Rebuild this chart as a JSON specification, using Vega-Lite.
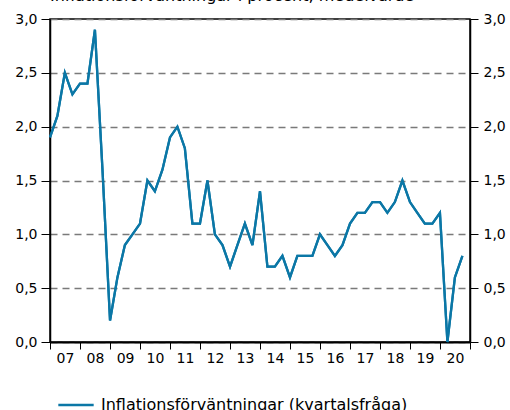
{
  "$schema": "https://vega.github.io/schema/vega-lite/v6.json",
  "width": 420,
  "height": 323,
  "autosize": "none",
  "padding": {"left": 50, "top": 19, "right": 40, "bottom": 68},
  "background": "white",
  "config": {
    "font": "DejaVu Sans",
    "view": {"stroke": "black", "strokeWidth": 1.5},
    "axis": {"labelFont": "DejaVu Sans", "labelFontSize": 14, "labelColor": "black", "domainColor": "black", "tickColor": "black"}
  },
  "title": {
    "text": "Inflationsförväntningar i procent, medelvärde",
    "anchor": "start",
    "frame": "group",
    "baseline": "alphabetic",
    "offset": -5,
    "fontSize": 16,
    "fontWeight": "normal",
    "font": "DejaVu Sans",
    "color": "black"
  },
  "data": {
    "values": [
      {"period": "2007-01-01", "value": 1.9, "serie": "Inflationsförväntningar (kvartalsfråga)"},
      {"period": "2007-04-01", "value": 2.1, "serie": "Inflationsförväntningar (kvartalsfråga)"},
      {"period": "2007-07-01", "value": 2.5, "serie": "Inflationsförväntningar (kvartalsfråga)"},
      {"period": "2007-10-01", "value": 2.3, "serie": "Inflationsförväntningar (kvartalsfråga)"},
      {"period": "2008-01-01", "value": 2.4, "serie": "Inflationsförväntningar (kvartalsfråga)"},
      {"period": "2008-04-01", "value": 2.4, "serie": "Inflationsförväntningar (kvartalsfråga)"},
      {"period": "2008-07-01", "value": 2.9, "serie": "Inflationsförväntningar (kvartalsfråga)"},
      {"period": "2008-10-01", "value": 1.6, "serie": "Inflationsförväntningar (kvartalsfråga)"},
      {"period": "2009-01-01", "value": 0.2, "serie": "Inflationsförväntningar (kvartalsfråga)"},
      {"period": "2009-04-01", "value": 0.6, "serie": "Inflationsförväntningar (kvartalsfråga)"},
      {"period": "2009-07-01", "value": 0.9, "serie": "Inflationsförväntningar (kvartalsfråga)"},
      {"period": "2009-10-01", "value": 1.0, "serie": "Inflationsförväntningar (kvartalsfråga)"},
      {"period": "2010-01-01", "value": 1.1, "serie": "Inflationsförväntningar (kvartalsfråga)"},
      {"period": "2010-04-01", "value": 1.5, "serie": "Inflationsförväntningar (kvartalsfråga)"},
      {"period": "2010-07-01", "value": 1.4, "serie": "Inflationsförväntningar (kvartalsfråga)"},
      {"period": "2010-10-01", "value": 1.6, "serie": "Inflationsförväntningar (kvartalsfråga)"},
      {"period": "2011-01-01", "value": 1.9, "serie": "Inflationsförväntningar (kvartalsfråga)"},
      {"period": "2011-04-01", "value": 2.0, "serie": "Inflationsförväntningar (kvartalsfråga)"},
      {"period": "2011-07-01", "value": 1.8, "serie": "Inflationsförväntningar (kvartalsfråga)"},
      {"period": "2011-10-01", "value": 1.1, "serie": "Inflationsförväntningar (kvartalsfråga)"},
      {"period": "2012-01-01", "value": 1.1, "serie": "Inflationsförväntningar (kvartalsfråga)"},
      {"period": "2012-04-01", "value": 1.5, "serie": "Inflationsförväntningar (kvartalsfråga)"},
      {"period": "2012-07-01", "value": 1.0, "serie": "Inflationsförväntningar (kvartalsfråga)"},
      {"period": "2012-10-01", "value": 0.9, "serie": "Inflationsförväntningar (kvartalsfråga)"},
      {"period": "2013-01-01", "value": 0.7, "serie": "Inflationsförväntningar (kvartalsfråga)"},
      {"period": "2013-04-01", "value": 0.9, "serie": "Inflationsförväntningar (kvartalsfråga)"},
      {"period": "2013-07-01", "value": 1.1, "serie": "Inflationsförväntningar (kvartalsfråga)"},
      {"period": "2013-10-01", "value": 0.9, "serie": "Inflationsförväntningar (kvartalsfråga)"},
      {"period": "2014-01-01", "value": 1.4, "serie": "Inflationsförväntningar (kvartalsfråga)"},
      {"period": "2014-04-01", "value": 0.7, "serie": "Inflationsförväntningar (kvartalsfråga)"},
      {"period": "2014-07-01", "value": 0.7, "serie": "Inflationsförväntningar (kvartalsfråga)"},
      {"period": "2014-10-01", "value": 0.8, "serie": "Inflationsförväntningar (kvartalsfråga)"},
      {"period": "2015-01-01", "value": 0.6, "serie": "Inflationsförväntningar (kvartalsfråga)"},
      {"period": "2015-04-01", "value": 0.8, "serie": "Inflationsförväntningar (kvartalsfråga)"},
      {"period": "2015-07-01", "value": 0.8, "serie": "Inflationsförväntningar (kvartalsfråga)"},
      {"period": "2015-10-01", "value": 0.8, "serie": "Inflationsförväntningar (kvartalsfråga)"},
      {"period": "2016-01-01", "value": 1.0, "serie": "Inflationsförväntningar (kvartalsfråga)"},
      {"period": "2016-04-01", "value": 0.9, "serie": "Inflationsförväntningar (kvartalsfråga)"},
      {"period": "2016-07-01", "value": 0.8, "serie": "Inflationsförväntningar (kvartalsfråga)"},
      {"period": "2016-10-01", "value": 0.9, "serie": "Inflationsförväntningar (kvartalsfråga)"},
      {"period": "2017-01-01", "value": 1.1, "serie": "Inflationsförväntningar (kvartalsfråga)"},
      {"period": "2017-04-01", "value": 1.2, "serie": "Inflationsförväntningar (kvartalsfråga)"},
      {"period": "2017-07-01", "value": 1.2, "serie": "Inflationsförväntningar (kvartalsfråga)"},
      {"period": "2017-10-01", "value": 1.3, "serie": "Inflationsförväntningar (kvartalsfråga)"},
      {"period": "2018-01-01", "value": 1.3, "serie": "Inflationsförväntningar (kvartalsfråga)"},
      {"period": "2018-04-01", "value": 1.2, "serie": "Inflationsförväntningar (kvartalsfråga)"},
      {"period": "2018-07-01", "value": 1.3, "serie": "Inflationsförväntningar (kvartalsfråga)"},
      {"period": "2018-10-01", "value": 1.5, "serie": "Inflationsförväntningar (kvartalsfråga)"},
      {"period": "2019-01-01", "value": 1.3, "serie": "Inflationsförväntningar (kvartalsfråga)"},
      {"period": "2019-04-01", "value": 1.2, "serie": "Inflationsförväntningar (kvartalsfråga)"},
      {"period": "2019-07-01", "value": 1.1, "serie": "Inflationsförväntningar (kvartalsfråga)"},
      {"period": "2019-10-01", "value": 1.1, "serie": "Inflationsförväntningar (kvartalsfråga)"},
      {"period": "2020-01-01", "value": 1.2, "serie": "Inflationsförväntningar (kvartalsfråga)"},
      {"period": "2020-04-01", "value": 0.0, "serie": "Inflationsförväntningar (kvartalsfråga)"},
      {"period": "2020-07-01", "value": 0.6, "serie": "Inflationsförväntningar (kvartalsfråga)"},
      {"period": "2020-10-01", "value": 0.8, "serie": "Inflationsförväntningar (kvartalsfråga)"}
    ]
  },
  "encoding": {
    "x": {
      "field": "period",
      "type": "temporal",
      "title": null,
      "scale": {"type": "utc", "domain": [{"year": 2007, "month": 1, "date": 1, "utc": true}, {"year": 2021, "month": 1, "date": 1, "utc": true}]},
      "axis": {
        "grid": false,
        "domainWidth": 2,
        "tickSize": 7,
        "tickWidth": 1,
        "labelOffset": 15,
        "labelOverlap": false,
        "labelFlush": false,
        "labelBound": false,
        "labelPadding": 2,
        "values": [
          {"year": 2007, "month": 1, "date": 1, "utc": true},
          {"year": 2008, "month": 1, "date": 1, "utc": true},
          {"year": 2009, "month": 1, "date": 1, "utc": true},
          {"year": 2010, "month": 1, "date": 1, "utc": true},
          {"year": 2011, "month": 1, "date": 1, "utc": true},
          {"year": 2012, "month": 1, "date": 1, "utc": true},
          {"year": 2013, "month": 1, "date": 1, "utc": true},
          {"year": 2014, "month": 1, "date": 1, "utc": true},
          {"year": 2015, "month": 1, "date": 1, "utc": true},
          {"year": 2016, "month": 1, "date": 1, "utc": true},
          {"year": 2017, "month": 1, "date": 1, "utc": true},
          {"year": 2018, "month": 1, "date": 1, "utc": true},
          {"year": 2019, "month": 1, "date": 1, "utc": true},
          {"year": 2020, "month": 1, "date": 1, "utc": true},
          {"year": 2021, "month": 1, "date": 1, "utc": true}
        ],
        "labelExpr": "utcFormat(datum.value, '%Y') == '2021' ? '' : utcFormat(datum.value, '%y')"
      }
    }
  },
  "layer": [
    {
      "mark": {"type": "line", "strokeWidth": 2.3},
      "encoding": {
        "y": {
          "field": "value",
          "type": "quantitative",
          "title": null,
          "scale": {"domain": [0, 3], "nice": false, "zero": true},
          "axis": {
            "orient": "left",
            "values": [0, 0.5, 1, 1.5, 2, 2.5, 3],
            "labelExpr": "replace(format(datum.value, '.1f'), '.', ',')",
            "tickSize": 9,
            "tickWidth": 1,
            "domainWidth": 1.5,
            "labelPadding": 4,
            "grid": true,
            "gridDash": [7, 5],
            "gridColor": "#7a7a7a",
            "gridWidth": 1.6
          }
        },
        "color": {
          "field": "serie",
          "type": "nominal",
          "scale": {"range": ["#0b77a6"]},
          "legend": {
            "title": null,
            "orient": "none",
            "legendX": 7,
            "legendY": 367,
            "symbolType": "stroke",
            "symbolSize": 1250,
            "symbolStrokeWidth": 2.5,
            "labelFontSize": 16,
            "labelFont": "DejaVu Sans",
            "labelColor": "black",
            "labelOffset": 6,
            "labelLimit": 500
          }
        }
      }
    },
    {
      "mark": {"type": "line", "strokeWidth": 2.3, "color": "#0b77a6"},
      "encoding": {
        "y": {
          "field": "value",
          "type": "quantitative",
          "title": null,
          "scale": {"domain": [0, 3], "nice": false, "zero": true},
          "axis": {
            "orient": "right",
            "values": [0, 0.5, 1, 1.5, 2, 2.5, 3],
            "labelExpr": "replace(format(datum.value, '.1f'), '.', ',')",
            "tickSize": 8,
            "tickWidth": 1,
            "domainWidth": 1.5,
            "labelPadding": 5,
            "grid": false
          }
        }
      }
    }
  ],
  "resolve": {"axis": {"y": "independent"}}
}
